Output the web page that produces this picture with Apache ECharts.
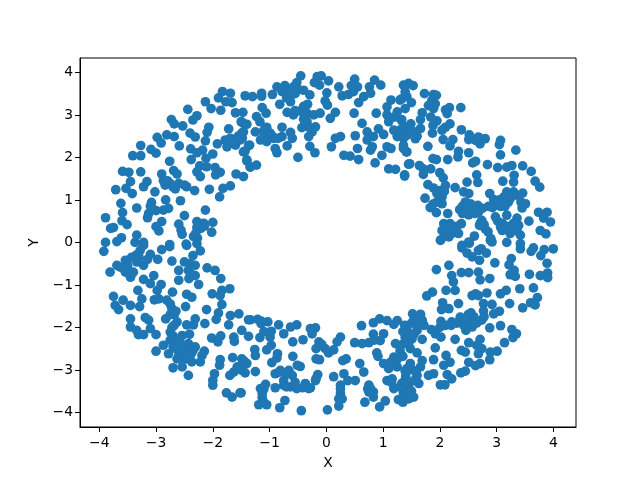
<!DOCTYPE html>
<html><head><meta charset="utf-8">
<style>html,body{margin:0;padding:0;background:#fff}#c{width:640px;height:480px}</style>
<script src="https://cdn.jsdelivr.net/npm/echarts@6/dist/echarts.min.js"></script>
</head><body><div id="c"></div>
<script>
const xTicks=[-4,-3,-2,-1,0,1,2,3,4];
const yTicks=[-4,-3,-2,-1,0,1,2,3,4];
const upperLeft=[[-1.83,3.55],[-1.69,3.51],[-1.43,3.45],[-1.90,3.40],[-1.77,3.31],[-2.13,3.31],[-1.66,3.29],[-2.03,3.15],[-1.86,3.11],[-2.44,3.13],[-1.60,3.05],[-1.47,3.06],[-2.28,2.98],[-2.35,2.88],[-2.73,2.89],[-2.68,2.79],[-2.53,2.74],[-1.50,2.84],[-1.72,2.67],[-2.07,2.71],[-2.10,2.59],[-2.13,2.39],[-2.40,2.57],[-2.31,2.48],[-1.46,2.60],[-2.81,2.53],[-2.68,2.49],[-2.98,2.47],[-2.91,2.34],[-3.27,2.28],[-2.59,2.27],[-3.09,2.19],[-3.00,2.10],[-1.92,2.32],[-1.78,2.41],[-1.69,2.45],[-1.75,2.25],[-1.52,2.41],[-1.60,2.29],[-1.46,2.13],[-1.37,2.28],[-2.39,2.20],[-2.18,2.17],[-3.41,2.04],[-3.27,2.04],[-2.28,2.11],[-2.00,2.08],[-2.38,1.95],[-2.12,1.98],[-2.76,1.91],[-1.40,1.94],[-1.34,1.78],[-2.23,1.80],[-2.11,1.78],[-1.96,1.76],[-2.69,1.69],[-2.63,1.61],[-3.59,1.67],[-3.48,1.65],[-3.27,1.66],[-2.90,1.61],[-2.28,1.66],[-2.22,1.55],[-1.87,1.65],[-1.95,1.59],[-1.59,1.61],[-1.46,1.55],[-3.45,1.43],[-3.16,1.43],[-3.22,1.31],[-2.87,1.45],[-2.84,1.35],[-2.75,1.39],[-2.60,1.39],[-2.46,1.31],[-2.32,1.22],[-2.66,1.26],[-3.71,1.24],[-3.53,1.27],[-3.42,1.15],[-2.06,1.25],[-1.82,1.27],[-1.69,1.33],[-3.02,1.19],[-1.88,1.07],[-3.62,0.92],[-2.83,1.00],[-2.57,0.98],[-3.08,0.94],[-3.34,0.81],[-2.78,0.80],[-3.07,0.80],[-3.13,0.68],[-2.87,0.76],[-2.13,0.76],[-3.59,0.70],[-2.50,0.63],[-3.15,0.58],[-3.89,0.58],[-3.60,0.51],[-3.51,0.42],[-3.75,0.35],[-3.80,0.33],[-2.90,0.49],[-2.60,0.43],[-2.28,0.49],[-2.16,0.45],[-2.00,0.47],[-3.00,0.37],[-2.95,0.27],[-2.56,0.29],[-2.54,0.19],[-2.28,0.35],[-2.21,0.33],[-2.02,0.24],[-3.34,0.17],[-3.61,0.11],[-2.34,0.14],[-2.27,0.10],[-3.89,0.0],[-3.69,0.02],[-3.37,0.0],[-3.22,0.0],[-2.76,-0.05],[-2.47,-0.04]];
const upperMiddle=[[-0.45,3.92],[-0.09,3.92],[-0.16,3.90],[0.04,3.80],[-0.21,3.76],[-0.12,3.70],[0.50,3.84],[0.85,3.82],[0.96,3.70],[1.36,3.70],[1.45,3.74],[0.22,3.66],[0.44,3.69],[0.55,3.66],[0.76,3.66],[-0.52,3.76],[-0.73,3.69],[-0.87,3.66],[-0.58,3.66],[-1.30,3.43],[-1.14,3.51],[-1.14,3.44],[-0.95,3.48],[-0.78,3.55],[-0.63,3.55],[-0.40,3.58],[-0.29,3.47],[0.01,3.52],[0.28,3.45],[0.39,3.48],[0.48,3.55],[0.66,3.43],[0.78,3.51],[0.57,3.29],[1.14,3.35],[1.30,3.35],[1.42,3.43],[-0.82,3.25],[-0.63,3.31],[-0.33,3.25],[-0.02,3.33],[0.02,3.23],[1.07,3.19],[1.25,3.07],[1.39,3.15],[-1.13,3.17],[-1.06,3.04],[-0.69,3.06],[-0.58,3.00],[-0.46,3.09],[-0.34,3.04],[-0.22,3.00],[-0.11,3.04],[0.16,3.06],[0.07,2.92],[0.49,3.04],[0.88,3.04],[-1.23,2.96],[-1.17,2.84],[-1.46,2.80],[-1.40,2.78],[-0.34,2.84],[1.07,3.00],[1.10,2.84],[1.32,2.88],[0.63,2.80],[-0.78,2.71],[-1.05,2.71],[-1.10,2.64],[-0.43,2.70],[-0.19,2.72],[-0.25,2.60],[-1.25,2.60],[-0.99,2.57],[-0.63,2.59],[0.72,2.60],[0.92,2.67],[1.01,2.54],[1.19,2.64],[1.30,2.64],[1.41,2.72],[-0.31,2.49],[-1.49,2.57],[-1.16,2.41],[-1.05,2.37],[-0.93,2.45],[-0.78,2.49],[-0.60,2.45],[0.51,2.51],[0.25,2.49],[0.16,2.45],[0.83,2.49],[0.72,2.41],[1.25,2.49],[1.36,2.45],[-0.69,2.27],[-0.90,2.21],[-0.87,2.11],[-1.35,2.29],[-0.29,2.26],[0.09,2.25],[0.55,2.21],[0.81,2.25],[0.78,2.17],[1.07,2.25],[1.14,2.21],[1.36,2.21],[1.42,2.13],[-0.20,2.11],[-1.43,2.15],[0.98,2.05],[0.31,2.05],[0.42,2.03],[0.57,1.95],[-0.50,2.00],[-1.40,1.92],[-1.34,1.77],[-1.23,1.82],[0.86,1.87],[1.10,1.73],[1.22,1.72],[1.45,1.84],[1.38,1.59]];
const upperRight=[[1.53,3.69],[1.39,3.69],[1.39,3.54],[1.33,3.38],[1.73,3.50],[1.89,3.48],[1.94,3.46],[1.50,3.29],[1.86,3.34],[1.92,3.26],[1.80,3.22],[1.89,3.15],[2.17,3.17],[2.37,3.17],[2.10,3.12],[2.13,3.03],[1.69,3.05],[1.66,2.89],[1.84,2.95],[1.95,2.86],[1.33,2.89],[1.49,2.79],[1.88,2.75],[2.18,2.79],[2.10,2.71],[2.04,2.64],[2.38,2.65],[1.66,2.68],[1.45,2.62],[1.33,2.56],[1.42,2.52],[1.57,2.44],[1.87,2.57],[2.52,2.53],[2.51,2.42],[2.68,2.48],[2.80,2.44],[2.71,2.32],[2.63,2.40],[2.06,2.42],[2.23,2.42],[1.79,2.26],[2.18,2.27],[3.07,2.40],[3.05,2.30],[1.36,2.28],[1.41,2.13],[2.33,2.14],[2.32,2.01],[2.51,2.11],[3.07,2.06],[3.34,2.17],[1.88,1.97],[1.94,1.95],[2.14,1.95],[2.63,1.91],[2.58,1.87],[1.47,1.85],[2.84,1.83],[3.02,1.76],[3.18,1.77],[3.27,1.81],[3.46,1.80],[3.61,1.67],[1.64,1.81],[1.84,1.73],[1.71,1.73],[1.71,1.60],[1.38,1.56],[2.00,1.64],[2.06,1.52],[2.65,1.59],[3.31,1.58],[3.30,1.42],[3.11,1.44],[3.68,1.44],[3.76,1.30],[2.48,1.42],[2.67,1.41],[1.79,1.36],[1.89,1.28],[2.10,1.34],[2.01,1.22],[2.27,1.29],[2.42,1.19],[2.51,1.15],[2.88,1.15],[3.18,1.19],[3.30,1.19],[3.46,1.16],[1.74,1.04],[2.04,1.07],[2.45,0.95],[2.95,1.01],[3.13,1.07],[3.21,0.95],[3.51,0.91],[3.45,0.81],[1.83,0.82],[2.04,0.91],[1.94,0.70],[2.35,0.77],[2.54,0.91],[2.67,0.87],[2.86,0.85],[3.07,0.85],[2.51,0.65],[2.68,0.71],[2.14,0.68],[3.74,0.71],[3.89,0.71],[2.07,0.44],[2.18,0.44],[2.38,0.44],[2.74,0.52],[2.98,0.60],[3.18,0.64],[3.36,0.57],[3.95,0.48],[3.57,0.50],[3.83,0.57],[3.77,0.28],[3.87,0.20],[2.04,0.28],[2.27,0.28],[2.80,0.32],[3.07,0.36],[3.39,0.40],[2.33,0.21],[2.16,0.13],[2.02,0.06],[2.61,0.15],[2.51,0.01],[2.90,0.09],[3.24,0.21],[3.36,0.28],[3.42,0.17],[3.18,0.0],[2.39,-0.07],[3.42,-0.03],[2.71,0.44],[2.89,0.05]];
const lowerRight=[[2.01,0.05],[2.39,-0.13],[2.52,-0.02],[2.92,0.01],[3.42,-0.15],[3.65,-0.13],[3.61,-0.21],[3.84,-0.17],[4.00,-0.15],[3.78,-0.31],[2.48,-0.25],[2.68,-0.19],[2.73,-0.15],[2.82,-0.25],[2.57,-0.34],[2.70,-0.42],[2.97,-0.48],[3.26,-0.38],[3.22,-0.53],[3.89,-0.49],[2.16,-0.54],[1.94,-0.64],[3.31,-0.66],[3.24,-0.76],[3.33,-0.80],[3.58,-0.75],[3.77,-0.78],[3.90,-0.72],[3.90,-0.83],[2.21,-0.78],[2.38,-0.71],[2.51,-0.71],[2.68,-0.70],[2.71,-0.88],[2.88,-0.85],[2.24,-0.93],[2.27,-1.13],[2.11,-1.13],[1.87,-1.17],[1.77,-1.26],[3.17,-1.13],[3.07,-1.21],[3.41,-1.09],[3.65,-1.07],[3.72,-1.30],[2.57,-1.25],[2.83,-1.19],[2.68,-1.25],[2.63,-1.21],[3.23,-1.44],[2.77,-1.44],[2.92,-1.46],[3.60,-1.42],[3.68,-1.47],[3.46,-1.54],[2.05,-1.42],[2.33,-1.44],[2.16,-1.56],[2.03,-1.58],[3.05,-1.62],[2.95,-1.68],[2.55,-1.66],[2.77,-1.61],[1.52,-1.68],[1.66,-1.69],[1.69,-1.83],[1.72,-1.95],[2.36,-1.76],[2.21,-1.87],[2.02,-1.86],[2.10,-1.95],[2.54,-1.83],[2.74,-1.83],[2.57,-1.99],[2.46,-2.07],[2.88,-2.01],[3.07,-1.96],[3.27,-2.05],[3.35,-2.15],[3.29,-2.24],[1.41,-2.03],[1.42,-2.19],[1.60,-2.07],[1.92,-2.15],[2.02,-2.23],[1.69,-2.28],[1.51,-2.27],[2.27,-2.28],[2.71,-2.28],[2.51,-2.36],[3.14,-2.36],[2.65,-2.42],[1.36,-2.38],[1.92,-2.48],[2.38,-2.54],[2.45,-2.58],[2.74,-2.50],[2.89,-2.58],[3.01,-2.56],[2.68,-2.62],[1.48,-2.50],[1.60,-2.60],[2.11,-2.66],[1.33,-2.66],[2.88,-2.76],[1.69,-2.78],[1.89,-2.76],[2.18,-2.82],[2.07,-2.89],[2.51,-2.82],[2.71,-2.85],[2.63,-2.90],[1.66,-2.93],[1.42,-2.97],[1.39,-3.03],[2.45,-3.03],[2.37,-3.07],[1.89,-3.09],[1.80,-3.13],[2.13,-3.11],[2.21,-3.21],[1.60,-3.13],[1.39,-3.25],[1.63,-3.32],[2.01,-3.35],[2.09,-3.35],[1.45,-3.40],[1.54,-3.64],[1.45,-3.68],[1.36,-3.56],[1.35,-3.76],[1.33,-3.32]];
const lowerMiddle=[[-1.34,-1.82],[-1.21,-1.81],[-1.15,-1.91],[-1.03,-1.87],[-0.84,-1.94],[-0.52,-1.94],[-0.63,-1.99],[-0.75,-2.15],[-1.49,-2.07],[-1.37,-2.21],[-1.17,-2.24],[-0.97,-2.09],[-0.99,-2.23],[-0.28,-2.03],[-0.19,-2.01],[-0.25,-2.15],[-0.41,-2.29],[-0.59,-2.34],[-0.13,-2.34],[-0.97,-2.42],[-1.05,-2.53],[0.25,-2.23],[0.19,-2.34],[-0.18,-2.50],[-0.02,-2.50],[0.04,-2.60],[0.13,-2.53],[0.50,-2.36],[0.63,-2.38],[0.75,-2.36],[0.83,-2.16],[0.62,-1.96],[0.83,-1.89],[0.94,-1.80],[1.07,-1.84],[1.25,-1.84],[1.19,-1.93],[1.01,-2.15],[0.95,-2.31],[1.22,-2.38],[1.42,-2.03],[1.39,-2.23],[1.45,-2.38],[-1.26,-2.52],[-1.25,-2.66],[-0.86,-2.62],[-0.87,-2.72],[-0.59,-2.68],[-1.46,-2.78],[-1.40,-2.85],[-1.49,-3.01],[-1.43,-3.07],[-0.96,-2.83],[-0.51,-2.89],[-0.46,-2.92],[-0.18,-2.74],[-0.12,-2.76],[0.35,-2.74],[0.29,-2.78],[0.59,-2.85],[0.66,-3.05],[-1.25,-3.04],[-0.81,-3.01],[-0.90,-3.09],[-0.66,-3.01],[-0.60,-3.13],[-0.15,-3.11],[-0.19,-3.25],[0.13,-3.16],[0.31,-3.09],[0.38,-3.25],[0.51,-3.25],[0.25,-3.36],[0.89,-2.60],[0.91,-2.68],[1.35,-2.68],[1.19,-2.70],[1.13,-2.82],[1.01,-2.85],[1.25,-2.93],[1.10,-2.97],[1.42,-3.00],[-1.16,-3.44],[-1.07,-3.34],[-0.90,-3.42],[-0.75,-3.36],[-0.63,-3.40],[-0.55,-3.29],[-0.52,-3.44],[-0.37,-3.32],[-0.31,-3.44],[-0.28,-3.42],[1.07,-3.25],[1.16,-3.21],[1.19,-3.44],[1.36,-3.29],[0.75,-3.36],[0.75,-3.52],[0.83,-3.52],[0.83,-3.64],[-1.50,-3.54],[0.25,-3.56],[0.22,-3.68],[0.28,-3.68],[-1.13,-3.65],[-1.10,-3.76],[-1.19,-3.82],[-1.05,-3.82],[-0.73,-3.72],[-0.82,-3.89],[-0.44,-3.96],[0.02,-3.94],[0.22,-3.85],[0.68,-3.76],[0.94,-3.87],[1.04,-3.73],[1.27,-3.70],[1.35,-3.72],[1.36,-3.52],[1.45,-3.64]];
const lowerLeft=[[-3.92,-0.21],[-3.22,-0.07],[-3.28,-0.19],[-3.10,-0.28],[-2.90,-0.17],[-2.76,-0.10],[-2.46,-0.07],[-2.28,-0.03],[-2.22,-0.20],[-2.35,-0.31],[-2.97,-0.40],[-2.72,-0.44],[-3.54,-0.42],[-3.43,-0.35],[-3.34,-0.46],[-3.22,-0.54],[-3.69,-0.54],[-3.81,-0.70],[-3.63,-0.58],[-3.54,-0.70],[-3.45,-0.82],[-2.50,-0.46],[-2.31,-0.54],[-2.60,-0.66],[-2.43,-0.66],[-2.31,-0.78],[-2.25,-0.99],[-2.10,-0.60],[-1.96,-0.66],[-1.86,-0.85],[-2.60,-0.89],[-3.22,-0.87],[-3.04,-0.78],[-3.10,-0.97],[-2.91,-0.99],[-2.98,-1.13],[-3.32,-1.13],[-2.71,-1.17],[-2.01,-1.21],[-1.84,-1.13],[-1.70,-1.09],[-1.87,-1.25],[-2.46,-1.22],[-2.37,-1.29],[-3.75,-1.27],[-3.58,-1.36],[-3.25,-1.33],[-3.03,-1.35],[-2.95,-1.33],[-2.81,-1.36],[-3.45,-1.48],[-3.72,-1.48],[-3.66,-1.58],[-3.29,-1.51],[-2.48,-1.51],[-1.84,-1.46],[-2.11,-1.58],[-2.72,-1.56],[-1.90,-1.66],[-1.94,-1.81],[-1.69,-1.72],[-1.54,-1.68],[-1.37,-1.82],[-1.72,-1.94],[-3.45,-1.80],[-3.19,-1.77],[-3.13,-1.83],[-2.83,-1.80],[-2.63,-1.87],[-2.31,-1.80],[-2.46,-1.94],[-2.34,-1.94],[-2.14,-1.91],[-3.45,-1.99],[-3.34,-2.07],[-3.10,-2.03],[-3.31,-2.17],[-3.22,-2.17],[-3.00,-2.17],[-2.75,-2.11],[-2.54,-2.19],[-2.41,-2.16],[-2.02,-2.25],[-1.91,-2.34],[-1.86,-2.20],[-1.63,-2.23],[-1.62,-2.33],[-2.75,-2.30],[-2.43,-2.38],[-2.57,-2.38],[-2.87,-2.42],[-3.00,-2.56],[-2.31,-2.46],[-2.15,-2.56],[-2.78,-2.62],[-2.46,-2.54],[-2.60,-2.66],[-2.63,-2.74],[-2.19,-2.66],[-2.46,-2.74],[-2.37,-2.81],[-2.22,-2.81],[-1.65,-2.71],[-1.87,-2.76],[-1.88,-2.89],[-1.49,-2.74],[-1.43,-2.82],[-1.57,-2.93],[-2.70,-2.95],[-2.54,-2.93],[-1.63,-3.05],[-1.70,-3.13],[-2.43,-3.13],[-1.97,-3.09],[-2.00,-3.25],[-2.00,-3.36],[-1.76,-3.54],[-1.66,-3.64],[-1.52,-3.54]];
const clusteredRight=[[3.05,1.00],[3.00,0.90],[3.12,0.95],[3.25,1.05],[3.15,0.85],[2.93,0.82],[3.38,1.10],[3.43,0.95],[2.40,0.85],[2.60,0.80],[2.50,0.78],[2.62,0.68],[2.40,0.68],[2.75,0.80],[2.12,0.35],[2.20,0.35],[2.10,0.22],[2.30,0.38],[2.20,0.20],[2.70,0.40],[2.78,0.42],[2.85,0.25],[3.02,0.50],[3.10,0.45],[3.18,0.38],[3.25,0.35],[3.30,0.45],[3.10,0.28],[1.95,1.15],[2.00,1.00],[1.95,0.95],[2.08,1.20],[1.88,0.90],[1.35,2.70],[1.43,2.72],[1.55,2.60],[1.60,2.50],[1.38,-1.95],[1.50,-1.90],[1.60,-1.95],[1.55,-2.15],[1.35,-2.10],[1.43,-2.30],[1.55,-1.80],[2.50,-1.70],[2.60,-1.75],[2.45,-1.90],[2.65,-1.90],[2.78,-1.75],[2.20,-1.95],[2.30,-1.90],[2.42,-1.95],[2.00,-2.00],[1.85,-2.05],[1.40,-3.15],[1.52,-3.00],[1.55,-3.25],[1.35,-3.45],[1.42,-3.55],[1.40,-3.62],[1.50,-3.50],[1.58,-3.05],[1.48,-2.85]];
const clusteredLeft=[[-2.70,-2.45],[-2.65,-2.50],[-2.55,-2.50],[-2.50,-2.62],[-2.55,-2.72],[-2.35,-2.55],[-2.38,-2.62],[-2.70,-2.20],[-2.65,-2.30],[-2.72,-2.00],[-2.68,-1.95],[-2.75,-1.70],[-2.68,-1.70],[-2.75,-1.45],[-2.65,-1.62],[-3.50,-0.55],[-3.35,-0.30],[-3.30,-0.35],[-3.40,-0.70],[-3.42,-0.72],[-3.15,-0.40],[-2.40,-0.50],[-2.38,-0.75],[-2.42,-0.85],[-1.60,2.40],[-1.65,2.35],[-1.55,2.50],[-1.48,2.45],[-2.80,1.45],[-2.70,1.30],[-2.50,1.35],[-3.10,0.85],[-3.00,0.75],[-2.25,0.42],[-2.15,0.38],[-2.30,0.22]];
const clusteredMiddle=[[-0.65,3.45],[-0.50,3.60],[-0.55,3.50],[-0.70,3.40],[-0.95,2.50],[-1.10,2.50],[-0.85,2.45],[-0.40,3.20],[-0.40,2.90],[-0.30,2.70],[-0.55,3.10],[1.20,2.95],[1.25,2.55],[1.30,2.55],[-1.15,-1.85],[-1.10,-2.10],[-0.08,-2.40],[0.85,-2.30],[1.30,-2.55],[1.25,-2.75],[1.20,-2.85],[1.15,-3.30],[1.30,-3.40],[1.40,-3.30],[-0.75,-3.25],[-0.70,-3.40],[-0.42,-3.42],[-0.83,-3.05],[-0.70,-3.08],[-1.10,-3.45],[-1.13,-3.55],[-0.18,-3.20],[0.25,-3.45],[0.73,-3.45],[0.78,-3.44]];
const points=[].concat(upperLeft,upperMiddle,upperRight,lowerRight,lowerMiddle,lowerLeft,clusteredRight,clusteredLeft,clusteredMiddle);
const font='"DejaVu Sans"';
const chart=echarts.init(document.getElementById('c'),null,{renderer:'canvas'});
function axis(name,min,max,ticks,gap,margin){
  return {type:'value',name:name,nameLocation:'middle',nameGap:gap,min:min,max:max,
    nameTextStyle:{fontFamily:font,fontSize:13.9,color:'#000'},
    splitLine:{show:false},
    axisLine:{show:true,onZero:false,lineStyle:{color:'#000',width:1}},
    axisTick:{show:true,length:5,inside:false,customValues:ticks,lineStyle:{color:'#000',width:1}},
    axisLabel:{show:true,margin:margin,customValues:ticks,fontFamily:font,fontSize:13.9,color:'#000',
      formatter:v=>String(v).replace('-','\u2212')}};
}
chart.setOption({
  animation:false,backgroundColor:'#fff',
  grid:{left:80,right:64,top:58,bottom:53,show:true,borderColor:'#000',borderWidth:1,containLabel:false},
  xAxis:axis('X',-4.34,4.40,xTicks,29,9),
  yAxis:axis('Y',-4.343,4.339,yTicks,39,7),
  series:[{type:'scatter',data:points,symbol:'circle',symbolSize:9.7,itemStyle:{color:'#1f77b4',opacity:1},silent:true,large:false}]
});
</script></body></html>
